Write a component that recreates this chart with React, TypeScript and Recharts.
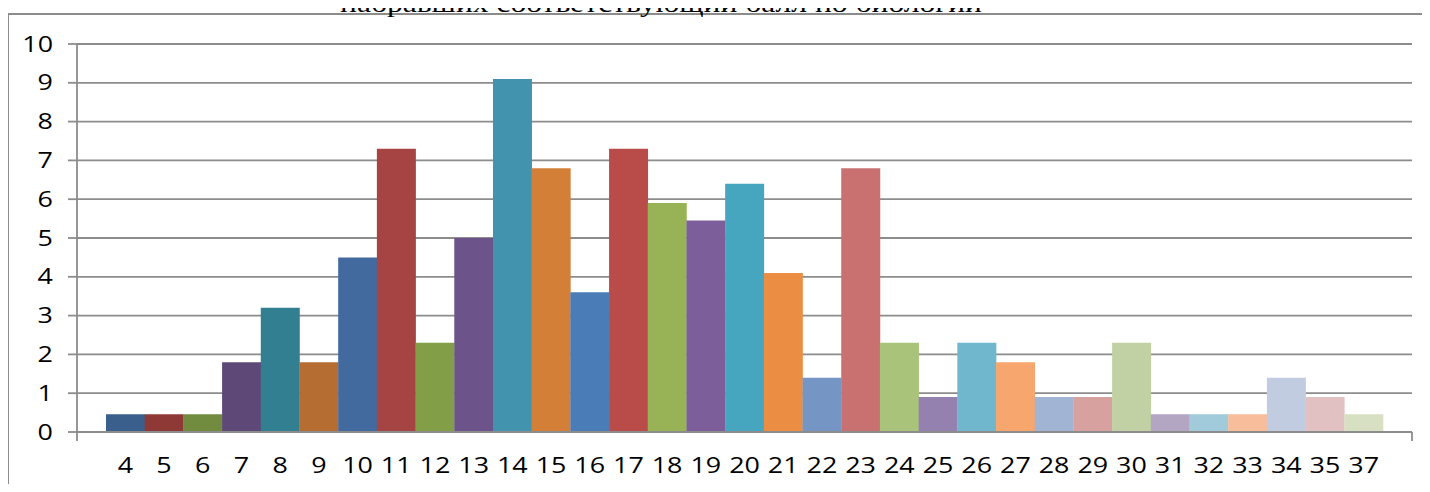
import React from "react";
import { BarChart, Bar, Cell, XAxis, YAxis, CartesianGrid } from "recharts";

// баллы по биологии (категории по оси X)
const scores = [
  "4", "5", "6", "7", "8", "9", "10", "11", "12", "13", "14", "15", "16", "17", "18", "19", "20",
  "21", "22", "23", "24", "25", "26", "27", "28", "29", "30", "31", "32", "33", "34", "35", "37",
];

// доля учащихся, набравших соответствующий балл, %
const shares = [
  0.46, 0.46, 0.46, 1.8, 3.2, 1.8, 4.5, 7.3, 2.3, 5.0, 9.1, 6.8, 3.6, 7.3, 5.9, 5.45, 6.4,
  4.1, 1.4, 6.8, 2.3, 0.9, 2.3, 1.8, 0.9, 0.9, 2.3, 0.46, 0.46, 0.46, 1.4, 0.9, 0.46,
];

const yTicks = [0, 1, 2, 3, 4, 5, 6, 7, 8, 9, 10];

const titleText = "набравших соответствующий балл по биологии";

// Excel 2007 "vary colors by point" palette
const palette = [
  "#3B5F8C", "#8E3936", "#718C3F", "#5E4878", "#327F91", "#B66D31", "#426A9F", "#A64343",
  "#829F48", "#6C548B", "#4294AE", "#D37F38", "#4A7DB8", "#B94C49", "#98B356", "#7C5F9A",
  "#47A6BF", "#EB8E44", "#7595C5", "#C97171", "#A9C47A", "#9581AF", "#70B7CD", "#F7A76D",
  "#A1B4D4", "#D7A1A0", "#C2D1A3", "#B2A6C3", "#A1CADA", "#F8BD9B", "#C2CCE0", "#E2C1C2",
  "#D7E0C3",
];

const data = scores.map((score, i) => ({ score, share: shares[i] }));

const LINE = "#8c8c8c";
const FONT = "'Open Sans', 'Noto Sans', sans-serif";
const STRETCH = 1.28;

const XTick = ({ x, y, payload }: any) => (
  <text
    transform={`translate(${x},${y + 41}) scale(${STRETCH},1)`}
    textAnchor="middle"
    fontFamily={FONT}
    fontSize={21}
    fill="#000"
  >
    {payload.value}
  </text>
);

const YTick = ({ x, y, payload }: any) => (
  <text
    transform={`translate(${x},${y + 7.5}) scale(${STRETCH},1)`}
    textAnchor="end"
    fontFamily={FONT}
    fontSize={21}
    fill="#000"
  >
    {payload.value}
  </text>
);

export default function App() {
  return (
    <div
      style={{
        position: "relative",
        width: 1430,
        height: 492,
        margin: -8,
        overflow: "hidden",
        background: "#fff",
      }}
    >
      {/* рамка области диаграммы */}
      <div
        style={{
          position: "absolute",
          left: 7,
          top: 13,
          width: 1460,
          height: 520,
          borderLeft: `2px solid ${LINE}`,
          borderTop: `2px solid ${LINE}`,
        }}
      />
      <svg width={1430} height={492} style={{ position: "absolute", left: 0, top: 0 }}>
        <text
          x={340}
          y={12}
          fontFamily="'Liberation Serif', 'Times New Roman', serif"
          fontSize={26}
          textLength={642}
          lengthAdjust="spacingAndGlyphs"
          fill="#000"
        >
          {titleText}
        </text>
      </svg>
      <div style={{ position: "absolute", left: 0, top: 0 }}>
        <BarChart
          width={1430}
          height={492}
          data={data}
          margin={{ top: 44, right: 18, bottom: 20, left: 17 }}
          barCategoryGap={0}
        >
          <CartesianGrid vertical={false} stroke={LINE} strokeWidth={1.8} />
          <XAxis
            dataKey="score"
            interval={0}
            height={40}
            padding={{ left: 29, right: 29 }}
            tickLine={false}
            tickSize={0}
            tickMargin={0}
            axisLine={{ stroke: LINE, strokeWidth: 1.8 }}
            tick={<XTick />}
          />
          <YAxis
            width={60}
            domain={[0, 10]}
            ticks={yTicks}
            interval={0}
            tickSize={9}
            tickMargin={15}
            tickLine={{ stroke: LINE, strokeWidth: 1.8 }}
            axisLine={{ stroke: LINE, strokeWidth: 1.8 }}
            tick={<YTick />}
          />
          <Bar dataKey="share" isAnimationActive={false}>
            {data.map((d, i) => (
              <Cell key={d.score} fill={palette[i % palette.length]} />
            ))}
          </Bar>
        </BarChart>
      </div>
      {/* засечки на концах оси категорий */}
      <svg width={1430} height={492} style={{ position: "absolute", left: 0, top: 0, pointerEvents: "none" }}>
        <line x1={77} y1={432} x2={77} y2={441} stroke={LINE} strokeWidth={1.8} />
        <line x1={1412} y1={432} x2={1412} y2={441} stroke={LINE} strokeWidth={1.8} />
      </svg>
    </div>
  );
}
